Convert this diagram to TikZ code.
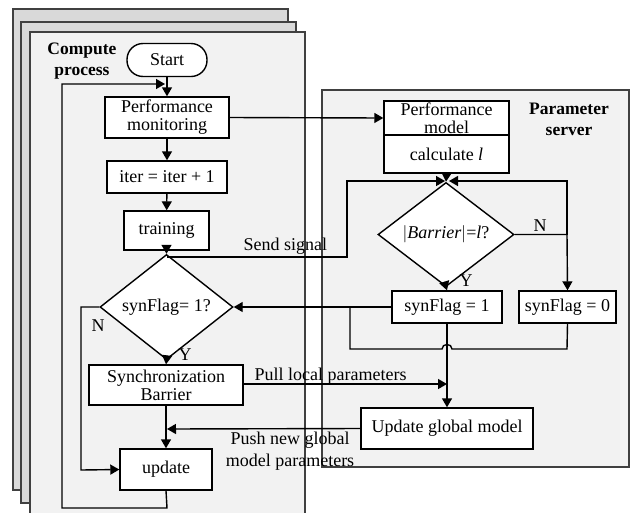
\documentclass[tikz,border=0pt]{standalone}
\usepackage{fontspec}
\setmainfont{Liberation Serif}
\usetikzlibrary{arrows.meta,shapes.geometric}

\begin{document}
\begin{tikzpicture}[x=1pt,y=-1pt,
  font=\fontsize{18}{18}\selectfont,
  line width=1.4pt,
  every node/.style={inner sep=0pt},
  box/.style={draw,fill=white,align=center},
  dec/.style={draw,fill=white,diamond,align=center},
  arr/.style={-{Triangle[length=9pt,width=10pt]}},
  twoline/.style={align=center,font=\fontsize{18}{21.5}\selectfont},
  title/.style={align=center,font=\fontsize{17.5}{21}\selectfont\bfseries},
  panel/.style={draw=black!75,line width=1.2pt}]

\useasboundingbox (0,0) rectangle (634,512);

% stacked compute-process panels
\draw[panel,fill=black!15] (13,9) rectangle (288,490);
\draw[panel,fill=black!15] (21,22) rectangle (296,503);
\draw[panel,fill=black!5] (30,32) rectangle (305,516);
% parameter-server panel
\draw[panel,fill=black!5] (322,90) rectangle (629,467);

\node[title] (cp) at (82,61) {Compute\\process};
\node[title] (ps) at (569,119) {Parameter\\server};

% compute process
\node[box,rounded corners=16pt,minimum width=80pt,minimum height=33pt] (start) at (167,60) {Start};
\node[box,minimum width=124pt,minimum height=41pt] (pmon) at (167,117.5) {Performance\\monitoring};
\node[box,minimum width=120pt,minimum height=32pt] (iter) at (167,177) {iter = iter + 1};
\node[box,minimum width=85pt,minimum height=39pt] (train) at (166.5,230.5) {training};
\node[dec,minimum width=133pt,minimum height=80pt] (dsyn) at (166.5,307) {synFlag= 1?};
\node[box,minimum width=154pt,minimum height=40pt] (sync) at (166,385) {Synchronization\\Barrier};
\node[box,minimum width=92pt,minimum height=41pt] (upd) at (166,469.5) {update};

% parameter server
\node[box,minimum width=125pt,minimum height=34pt] (pmod) at (446.5,118) {Performance\\model};
\node[box,minimum width=125pt,minimum height=38pt] (calc) at (446.5,154) {calculate \textit{l}};
\node[dec,minimum width=136pt,minimum height=73pt] (dbar) at (446,234.5) {$|$\textit{Barrier}$|$=\textit{l}?};
\node[box,minimum width=110pt,minimum height=32pt] (f1) at (447,307) {synFlag = 1};
\node[box,minimum width=97pt,minimum height=32pt] (f0) at (567.5,307) {synFlag = 0};
\node[box,minimum width=172pt,minimum height=41pt] (ugm) at (447,428.5) {Update global model};

% routing points
\coordinate (j) at (167,84);
\coordinate (lpA) at (167,508);
\coordinate (lpB) at (62,508);
\coordinate (lpC) at (62,84);
\coordinate (nA) at (81,307);
\coordinate (nB) at (81,470);
\coordinate (sgA) at (167,257);
\coordinate (sgB) at (347,257);
\coordinate (sgC) at (347,181);
\coordinate (mL) at (445,181);
\coordinate (mR) at (449,181);
\coordinate (rA) at (567,234.5);
\coordinate (rB) at (567,181);
\coordinate (fbA) at (350,307);
\coordinate (fbB) at (350,349);
\coordinate (hopA) at (442,349);
\coordinate (hopB) at (452,349);
\coordinate (fbC) at (567,349);
\coordinate (plE) at (447,384);
\coordinate (psE) at (167,429);

% compute-process flow
\draw[arr] (start.south) -- (pmon.north);
\draw[arr] (pmon) -- (iter);
\draw[arr] (iter) -- (train);
\draw[arr] (train) -- (dsyn.north);
\draw[arr] (dsyn.south) -- (sync.north);
\draw[arr] (sync.south) -- (upd.north);
\draw[arr] (dsyn.west) -- (nA) -- (nB) -- (upd.west);
\draw[arr,shorten >=2pt] (upd.south) -- (lpA) -- (lpB) -- (lpC) -- (j);
\node at (98,326) (nN) {N};
\node at (185,355) (nY) {Y};

% to the parameter server
\draw[arr] (pmon.east) -- (pmod.west);
\draw[arr] (sgA) -- (sgB) -- (sgC) -- (mL);
\node[anchor=west] (sendl) at (243,246) {Send signal};
\draw[arr] (calc.south) -- (dbar.north);
\draw[arr] (dbar.east) -- (rA) -- (f0.north);
\draw[arr] (rA) -- (rB) -- (mR);
\draw[arr] (dbar.south) -- (f1.north);
\node (bN) at (540,226) {N};
\node (bY) at (466,281) {Y};

\draw[arr] (f1.west) -- (dsyn.east);
\draw (fbA) -- (fbB) -- (hopA) .. controls (442,343) and (452,343) .. (hopB) -- (fbC) -- (f0.south);
\draw[arr] (f1.south) -- (ugm.north);

\draw[arr] (sync.east |- plE) -- (plE);
\node[anchor=west] (pulll) at (254,376) {Pull local parameters};
\draw[arr] (ugm.west) -- (psE);
\node[twoline] (pushl) at (290,451) {Push new global\\model parameters};

\end{tikzpicture}
\end{document}
